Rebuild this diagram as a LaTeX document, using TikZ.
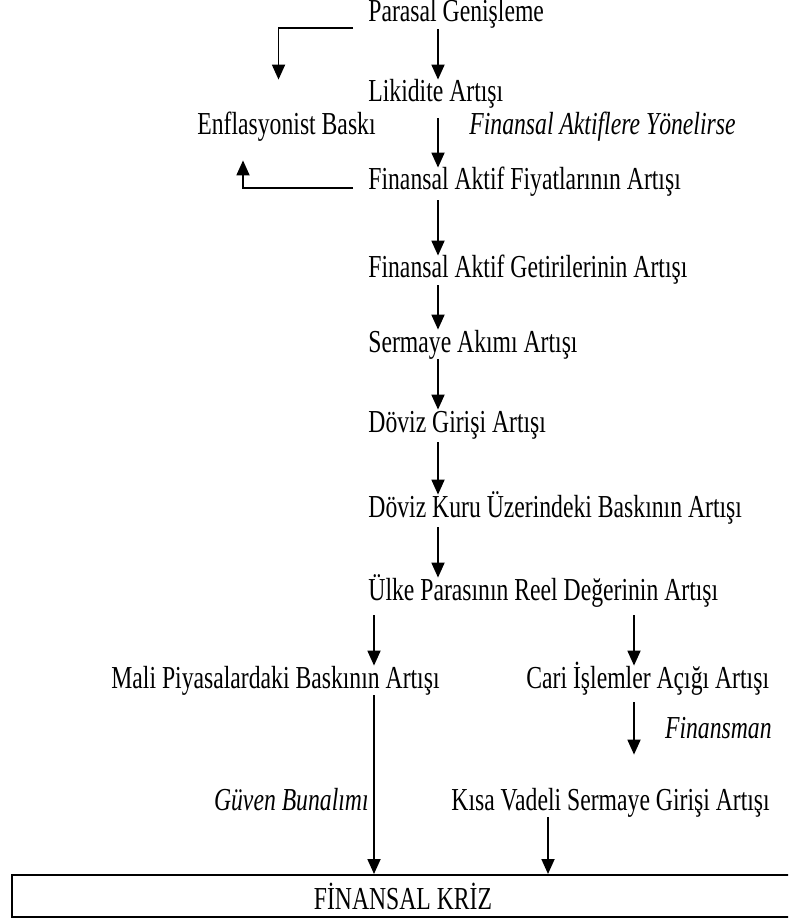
\documentclass[tikz,border=0pt]{standalone}
\usepackage{fontspec}
\setmainfont{Liberation Serif}[FakeStretch=0.74]
\usepackage{tikz}
\usetikzlibrary{arrows.meta,positioning}

\begin{document}
\begin{tikzpicture}[x=0.5pt,y=-0.5pt,
  txt/.style={anchor=base west,inner sep=0pt,text height=11pt,text depth=3.5pt,font=\fontsize{16pt}{19pt}\selectfont},
  note/.style={txt,font=\fontsize{16pt}{19pt}\selectfont\itshape},
  crisis/.style={draw,line width=1pt,minimum width=391pt,minimum height=21pt,inner sep=0pt,font=\fontsize{16pt}{19pt}\selectfont},
  line/.style={draw,line width=.9pt,-{Triangle[length=7.5pt,width=6.5pt]}}]
  \useasboundingbox (0,0) rectangle (788,919);
  \clip (0,0) rectangle (788,919);

  \coordinate (mainx) at (438,0);
  \coordinate (leftx) at (374,0);
  \coordinate (rightx) at (634,0);
  \coordinate (kisax) at (548,0);

  \node[txt] (pg) at (368,22) {Parasal Genişleme};
  \node[txt] (lik) at (368,102) {Likidite Artışı};
  \node[txt] (enf) at (197,135) {Enflasyonist Baskı};
  \node[note] (yon) at (469,135) {Finansal Aktiflere Yönelirse};
  \node[txt] (fiy) at (368,190) {Finansal Aktif Fiyatlarının Artışı};
  \node[txt] (get) at (368,278) {Finansal Aktif Getirilerinin Artışı};
  \node[txt] (ser) at (368,352) {Sermaye Akımı Artışı};
  \node[txt] (dgir) at (368,432) {Döviz Girişi Artışı};
  \node[txt] (dkur) at (368,517) {Döviz Kuru Üzerindeki Baskının Artışı};
  \node[txt] (ulke) at (368,600) {Ülke Parasının Reel Değerinin Artışı};
  \node[txt] (mali) at (111,688) {Mali Piyasalardaki Baskının Artışı};
  \node[txt] (cari) at (526,688) {Cari İşlemler Açığı Artışı};
  \node[note,anchor=base east] (fin) at (772,738) {Finansman};
  \node[note,anchor=base east] (guv) at (369,810) {Güven Bunalımı};
  \node[txt] (kisa) at (451,810) {Kısa Vadeli Sermaye Girişi Artışı};
  \node[crisis] (kriz) at (403,896) {FİNANSAL KRİZ};

  \draw[line] (pg.south -| mainx) -- (lik.north -| mainx);
  \draw[line,shorten <=4.5pt] (lik.south -| mainx) -- (fiy.north -| mainx);
  \draw[line,shorten <=1.5pt] (fiy.south -| mainx) -- (get.north -| mainx);
  \draw[line] (get.south -| mainx) -- (ser.north -| mainx);
  \draw[line] (ser.south -| mainx) -- (dgir.north -| mainx);
  \draw[line,shorten <=1.5pt] (dgir.south -| mainx) -- (dkur.north -| mainx);
  \draw[line,shorten <=1.5pt] (dkur.south -| mainx) -- (ulke.north -| mainx);
  \draw[line,shorten >=16.5pt] ([xshift=-7.5pt,yshift=.5pt]pg.south west) -| ([xshift=-4pt]enf.north);
  \draw[line,shorten >=9pt] ([xshift=-7.5pt,yshift=1pt]fiy.base west) -| ([xshift=23pt]enf.south west);
  \draw[line,shorten <=4pt] (ulke.south -| leftx) -- (mali.north -| leftx);
  \draw[line,shorten <=4pt] (ulke.south -| rightx) -- (cari.north -| rightx);
  \draw[line] (mali.south -| leftx) -- (kriz.north -| leftx);
  \draw[line,shorten <=3.5pt,shorten >=16.5pt] (cari.south -| rightx) -- (kisa.north -| rightx);
  \draw[line] (kisa.south -| kisax) -- (kriz.north -| kisax);
\end{tikzpicture}
\end{document}
